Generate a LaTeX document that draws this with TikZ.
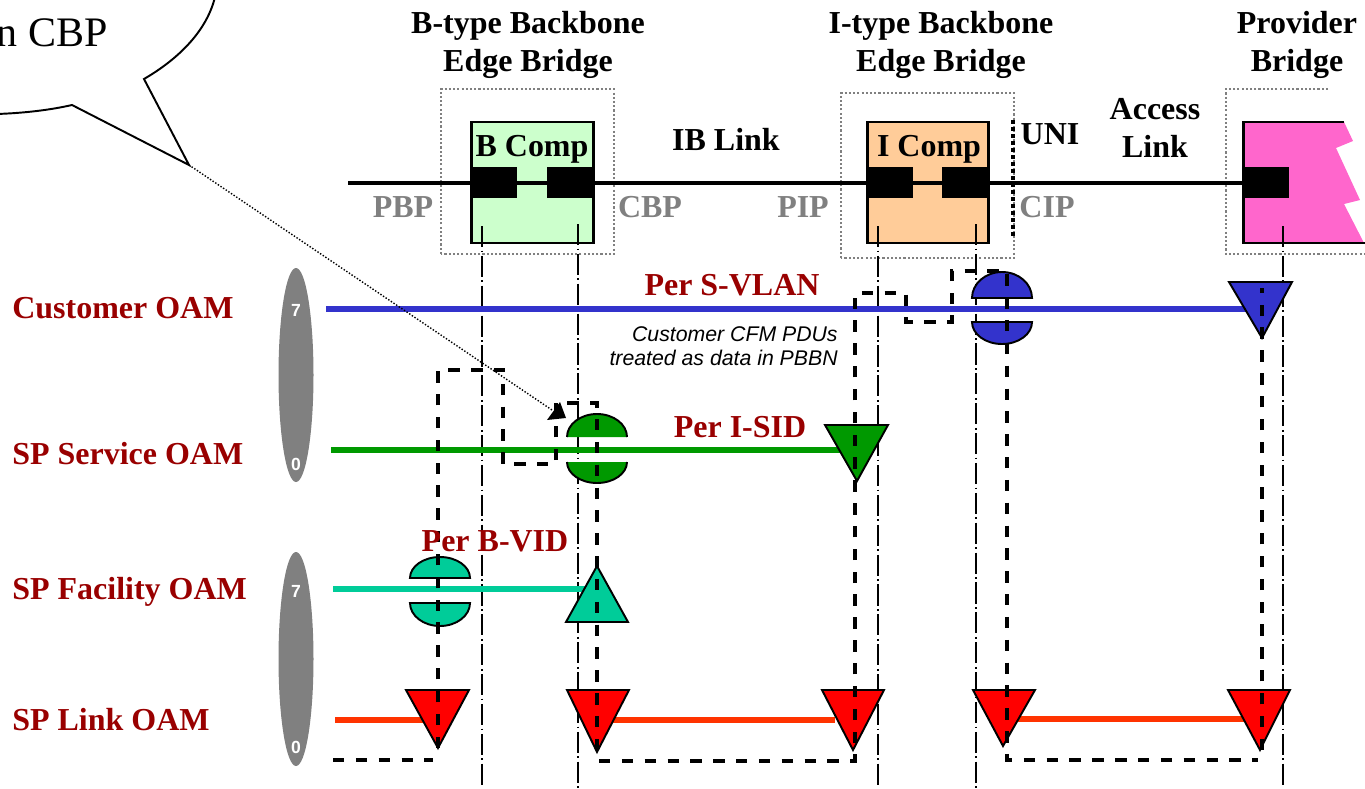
\documentclass[tikz,border=0pt]{standalone}
\usepackage{fontspec}
\setmainfont{Liberation Serif}
\setsansfont{Liberation Sans}
\definecolor{oamred}{HTML}{990000}
\definecolor{gtxt}{HTML}{808080}
\definecolor{cblue}{HTML}{3333CC}
\definecolor{sgreen}{HTML}{009900}
\definecolor{teal2}{HTML}{00CC99}
\definecolor{lred}{HTML}{FF3300}
\definecolor{bfill}{HTML}{CCFFCC}
\definecolor{ifill}{HTML}{FFCC99}
\definecolor{pfill}{HTML}{FF66CC}
\tikzset{
  x=0.02cm,y=-0.02cm,
  hdr/.style={font=\fontsize{18.2}{21.5}\selectfont\bfseries,align=center,inner sep=0pt,text=black},
  portlab/.style={font=\fontsize{18.2}{20}\selectfont\bfseries,text=gtxt,inner sep=0pt},
  oamlab/.style={font=\fontsize{18.2}{20}\selectfont\bfseries,text=oamred,inner sep=0pt,anchor=west},
  perlab/.style={font=\fontsize{18.2}{20}\selectfont\bfseries,text=oamred,inner sep=0pt},
  prio/.style={font=\sffamily\fontsize{10}{12}\selectfont\bfseries,text=white,inner sep=0pt},
  note/.style={font=\sffamily\itshape\fontsize{12.1}{13.6}\selectfont,align=right,inner sep=0pt,anchor=east},
  boundary/.style={draw=gray,line width=1.2pt,dash pattern=on 1.2pt off 1.2pt},
  comp/.style={draw=black,line width=1.7pt,inner sep=0pt},
  portblk/.style={fill=black},
  lifeline/.style={black,line width=0.8pt,dash pattern=on 12pt off 2pt on 1pt off 2pt},
  flow/.style={black,line width=2.3pt,dash pattern=on 6.5pt off 6.5pt},
  sym/.style={draw=black,line width=1.1pt},
  level/.style={line width=3.5pt},
}
\newcommand{\halves}[7]{%
  \draw[sym,fill=#7] (#1-#2,#3) arc[start angle=180,end angle=360,x radius=#2,y radius=#3-#4] -- cycle;
  \draw[sym,fill=#7] (#1-#2,#5) arc[start angle=180,end angle=0,x radius=#2,y radius=#6-#5] -- cycle;
}
\newcommand{\halvesopen}[7]{%
  \fill[#7] (#1-#2,#3) arc[start angle=180,end angle=360,x radius=#2,y radius=#3-#4] -- cycle;
  \fill[#7] (#1-#2,#5) arc[start angle=180,end angle=0,x radius=#2,y radius=#6-#5] -- cycle;
  \draw[sym] (#1-#2,#3) arc[start angle=180,end angle=360,x radius=#2,y radius=#3-#4];
  \draw[sym] (#1-#2,#5) arc[start angle=180,end angle=0,x radius=#2,y radius=#6-#5];
}
\begin{document}
\begin{tikzpicture}
\useasboundingbox (0,0) rectangle (1365,788);

% callout
\draw[black,line width=1.1pt] (215,-3) .. controls (207,30) and (180,58) .. (144,79) -- (189,165) -- (72,105) .. controls (50,110) and (25,113) .. (-3,114);
\node[font=\fontsize{23.9}{26}\selectfont,anchor=base east,inner sep=0pt] (cbp) at (108,46) {n CBP};
\coordinate (tip) at (189,165);

% boundaries
\draw[boundary] (441,254) rectangle (614,89);
\draw[boundary] (841,258) rectangle (1014,93);
\draw[boundary] (1328,89) -- (1226,89) -- (1226,254) -- (1365,254);
\draw[black,line width=2.3pt,dash pattern=on 2pt off 2pt] (1013,120) -- (1013,238);

% main link
\coordinate (linkL) at (348,183);
\coordinate (linkR) at (1243,183);
\draw[black,line width=2.3pt] (linkL) -- (linkR);

% components
\fill[bfill] (471,122) rectangle (593,243);
\fill[ifill] (867,122) rectangle (988,243);
\fill[pfill] (1243,122) -- (1344,122) -- (1353,141) -- (1336,148) -- (1360,200) -- (1344,204) -- (1364,243) -- (1243,243) -- cycle;
\draw[comp] (471,122) rectangle (593,243);
\draw[comp] (867,122) rectangle (988,243);
\draw[comp] (1344,122) -- (1243,122) -- (1243,243) -- (1365,243);
\draw[black,line width=2.3pt] (471,183) -- (593,183);
\draw[black,line width=2.3pt] (867,183) -- (988,183);
\fill[portblk] (471,167) rectangle (517,198);
\fill[portblk] (547,167) rectangle (593,198);
\fill[portblk] (867,167) rectangle (913,198);
\fill[portblk] (942,167) rectangle (988,198);
\fill[portblk] (1243,167) rectangle (1289,198);

% lifelines
\foreach \n/\xx/\yy in {a/482/226,b/578/224,c/878/226,d/976/224,e/1283/226}{
  \coordinate (top\n) at (\xx,\yy);
  \coordinate (bot\n) at (\xx,788);
  \draw[lifeline] (top\n) -- (bot\n);
}

% priority ovals
\fill[gtxt] (296,375) ellipse [x radius=17.5,y radius=107];
\fill[gtxt] (296,659) ellipse [x radius=17.5,y radius=107];
\node[prio] (p7a) at (296,310) {7};
\node[prio] (p0a) at (296,464) {0};
\node[prio] (p7b) at (296,591) {7};
\node[prio] (p0b) at (296,747) {0};

% level lines
\coordinate (bl) at (326,309); \coordinate (br) at (1250,309);
\coordinate (gl) at (331,450); \coordinate (gr) at (845,450);
\coordinate (tl) at (333,589); \coordinate (tr) at (590,589);
\draw[level,cblue] (bl) -- (br);
\draw[level,sgreen] (gl) -- (gr);
\draw[level,teal2] (tl) -- (tr);
\coordinate (r1a) at (335,720); \coordinate (r1b) at (425,720);
\coordinate (r2a) at (610,720); \coordinate (r2b) at (835,720);
\coordinate (r3a) at (1015,719); \coordinate (r3b) at (1245,719);
\draw[level,lred] (r1a) -- (r1b);
\draw[level,lred] (r2a) -- (r2b);
\draw[level,lred] (r3a) -- (r3b);

% half circles
\halvesopen{597}{30}{437}{414}{462}{483}{sgreen}
\halves{1002}{30}{298}{272}{322}{344}{cblue}
\halves{440}{30}{578}{557}{603}{626}{teal2}

% triangles
\draw[sym,fill=cblue] (1229,282) -- (1292,282) -- (1262,338) -- cycle;
\draw[sym,fill=sgreen] (825,425) -- (888,425) -- (857,481) -- cycle;
\draw[sym,fill=teal2] (597,566) -- (566,622) -- (628,622) -- cycle;
\foreach \aa/\bb/\cc/\dd in {406/469/438/748,567/629/597/752,822/884/853/750,973/1035/1003/746,1228/1290/1260/750}{
  \draw[sym,fill=red] (\aa,690) -- (\bb,690) -- (\cc,\dd) -- cycle;
}

% flow
\coordinate (f0) at (333,760); \coordinate (f1) at (433,760);
\coordinate (f2) at (438,748); \coordinate (f3) at (438,370); \coordinate (f4) at (503,370);
\coordinate (f5) at (503,464); \coordinate (f6) at (556,464); \coordinate (f7) at (556,403);
\coordinate (f8) at (597,403); \coordinate (f9) at (597,754);
\coordinate (g0) at (599,761); \coordinate (g1) at (855,761); \coordinate (g2) at (855,293);
\coordinate (g3) at (906,293); \coordinate (g4) at (906,322); \coordinate (g5) at (952,322);
\coordinate (g6) at (952,271); \coordinate (g7) at (1007,271); \coordinate (g8) at (1007,760);
\coordinate (g9) at (1258,760); \coordinate (h0) at (1262,750); \coordinate (h1) at (1262,288);
\draw[flow] (f0) -- (f1);
\draw[flow] (f2) -- (f3) -- (f4) -- (f5) -- (f6) -- (f7) -- (f8) -- (f9);
\draw[flow] (g0) -- (g1) -- (g2) -- (g3) -- (g4) -- (g5) -- (g6) -- (g7) -- (g8) -- (g9);
\draw[flow] (h0) -- (h1);

% dotted pointer
\coordinate (ptr) at (552,410);
\draw[black,line width=0.8pt,densely dotted] (tip) -- (ptr);
\fill[black] (560,402) -- (566,418) -- (547,420) -- cycle;

% texts
\node[hdr] (h1n) at (528,45) {B-type Backbone\\Edge Bridge};
\node[hdr] (h2n) at (941,45) {I-type Backbone\\Edge Bridge};
\node[hdr] (h3n) at (1297,45) {Provider\\Bridge};
\node[hdr] (bc) at (532,149) {B Comp};
\node[hdr] (ic) at (929,149) {I Comp};
\node[hdr] (ib) at (726,139.5) {IB Link};
\node[hdr] (uni) at (1050,134) {UNI};
\node[hdr] (acc) at (1155,128) {Access\\Link};
\node[portlab] (pbp) at (403,207) {PBP};
\node[portlab] (cbpl) at (650,207) {CBP};
\node[portlab] (pip) at (803,207) {PIP};
\node[portlab] (cip) at (1047,207) {CIP};
\node[oamlab] (o1) at (12,308) {Customer OAM};
\node[oamlab] (o2) at (12,454) {SP Service OAM};
\node[oamlab] (o3) at (12,592) {SP Facility OAM};
\node[oamlab] (o4) at (12,720) {SP Link OAM};
\node[perlab] (ps) at (732,285) {Per S-VLAN};
\node[perlab] (pi) at (740,427) {Per I-SID};
\node[perlab] (pb) at (495,541) {Per B-VID};
\node[note] (nt) at (838,346) {Customer CFM PDUs\\treated as data in PBBN};
\end{tikzpicture}
\end{document}
